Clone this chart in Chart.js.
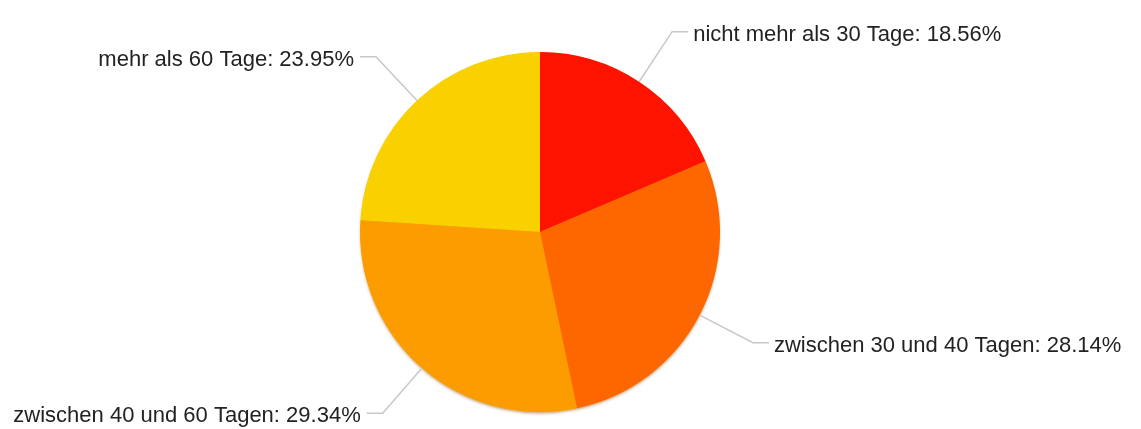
<!DOCTYPE html>
<html>
<head>
<meta charset="utf-8">
<script src="https://cdn.jsdelivr.net/npm/chart.js@4"></script>
<style>
  body { margin: 0; background: #fff; }
  #wrap { width: 1141px; height: 429px; position: relative; }
</style>
</head>
<body>
<div id="wrap"><canvas id="pie"></canvas></div>
<script>
// values
var categories = ["nicht mehr als 30 Tage", "zwischen 30 und 40 Tagen", "zwischen 40 und 60 Tagen", "mehr als 60 Tage"];
var shares = [18.56, 28.14, 29.34, 23.95];
var colors = ["#fe1200", "#fe6600", "#fd9c00", "#f9d100"];

// soft darker rim under the pie
var pieShadow = {
    id: "pieShadow",
    beforeDatasetsDraw: function (chart) {
        var arc = chart.getDatasetMeta(0).data[0];
        if (!arc) return;
        var ctx = chart.ctx;
        ctx.save();
        ctx.shadowColor = "rgba(150, 90, 0, 0.55)";
        ctx.shadowBlur = 3;
        ctx.shadowOffsetY = 2;
        ctx.fillStyle = "#e08a00";
        ctx.beginPath();
        ctx.arc(arc.x, arc.y, arc.outerRadius - 0.5, 0, Math.PI * 2);
        ctx.fill();
        ctx.restore();
    }
};

// outside labels with leader lines
var pieLabels = {
    id: "pieLabels",
    afterDatasetsDraw: function (chart) {
        var ctx = chart.ctx;
        var meta = chart.getDatasetMeta(0);
        ctx.save();
        ctx.font = "22px 'Liberation Sans', Arial, sans-serif";
        ctx.textBaseline = "middle";
        ctx.fillStyle = "#222";
        ctx.strokeStyle = "#c8c8c8";
        ctx.lineWidth = 1.5;
        meta.data.forEach(function (arc, i) {
            var mid = (arc.startAngle + arc.endAngle) / 2;
            var r = arc.outerRadius;
            var sx = arc.x + Math.cos(mid) * r;
            var sy = arc.y + Math.sin(mid) * r;
            var ex = arc.x + Math.cos(mid) * (r + 60);
            var ey = arc.y + Math.sin(mid) * (r + 60);
            var right = Math.cos(mid) >= 0;
            var hx = ex + (right ? 16 : -16);
            ctx.beginPath();
            ctx.moveTo(sx, sy);
            ctx.lineTo(ex, ey);
            ctx.lineTo(hx, ey);
            ctx.stroke();
            var text = categories[i] + ": " + shares[i].toFixed(2) + "%";
            ctx.textAlign = right ? "left" : "right";
            ctx.fillText(text, hx + (right ? 5 : -6), ey + 3);
        });
        ctx.restore();
    }
};

new Chart(document.getElementById("pie"), {
    type: "pie",
    data: {
        labels: categories,
        datasets: [
            {
                data: shares,
                backgroundColor: colors,
                borderWidth: 0,
                hoverOffset: 0,
                offset: 0,
            },
        ],
    },
    options: {
        responsive: true,
        maintainAspectRatio: false,
        animation: false,
        events: [],
        layout: {
            padding: { left: 0, right: 61, top: 52, bottom: 17 },
        },
        plugins: {
            legend: { display: false },
            tooltip: { enabled: false },
        },
    },
    plugins: [pieShadow, pieLabels],
});
</script>
</body>
</html>
